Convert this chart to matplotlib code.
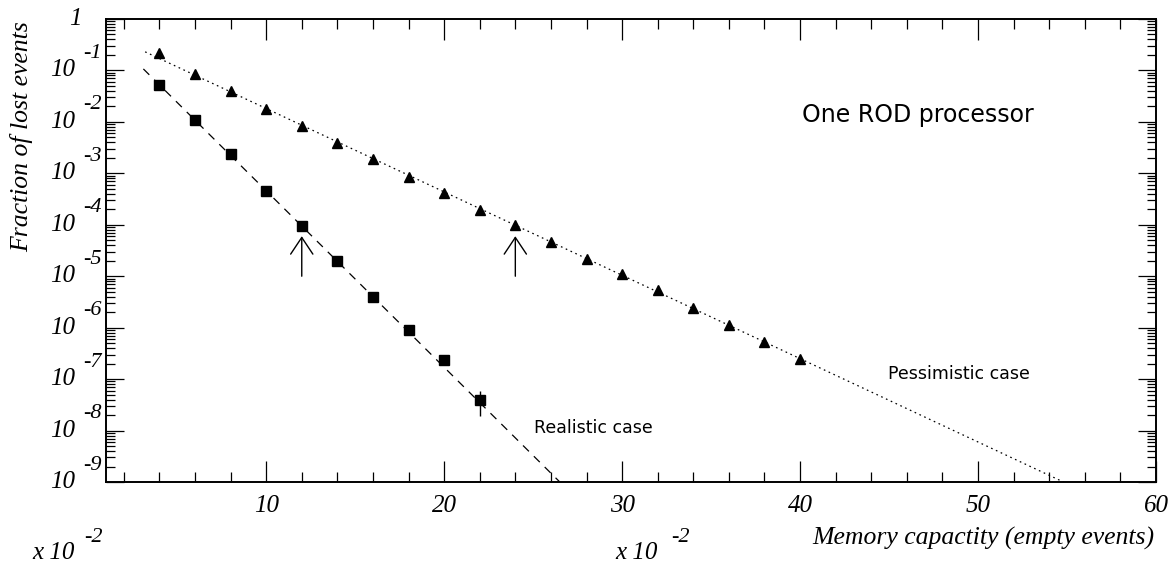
import matplotlib
matplotlib.use("Agg")
import matplotlib.pyplot as plt
from matplotlib.ticker import MultipleLocator, LogLocator, NullFormatter

plt.rcParams["lines.scale_dashes"] = False

# Pessimistic case (triangles)
pess_x = [4, 6, 8, 10, 12, 14, 16, 18, 20, 22, 24, 26, 28, 30, 32, 34, 36, 38, 40]
pess_y = [0.214, 8.7e-2, 3.9e-2, 1.78e-2, 8.3e-3, 3.9e-3, 1.86e-3, 8.5e-4,
          4.1e-4, 1.95e-4, 9.8e-5, 4.7e-5, 2.14e-5, 1.1e-5, 5.4e-6, 2.4e-6,
          1.12e-6, 5.2e-7, 2.45e-7]

# Realistic case (squares)
real_x = [4, 6, 8, 10, 12, 14, 16, 18, 20, 22]
real_y = [5.2e-2, 1.1e-2, 2.35e-3, 4.6e-4, 9.5e-5, 1.95e-5, 4.0e-6, 8.9e-7,
          2.35e-7, 3.9e-8]
real_err_x = [22]
real_err_y = [3.9e-8]
real_err_lo = [1.9e-8]
real_err_hi = [5.75e-8]

# exponential fits (end points)
fit_real_x = [3.1, 26.5]
fit_real_y = [1.07e-1, 1e-9]
fit_pess_x = [3.2, 54.8]
fit_pess_y = [2.3e-1, 1e-9]

# arrows marking the chosen memory size
arrow_x = [12, 24]
arrow_from = 1e-5
arrow_to = 6.0e-5

decades = list(range(-9, 1))

serif = dict(family="Liberation Serif", style="italic")

fig = plt.figure(figsize=(11.73, 5.66), dpi=100)
ax = fig.add_axes([106 / 1173, 1 - 482 / 566, 1050 / 1173, 463 / 566])

ax.set_yscale("log")
ax.set_xlim(1, 60)
ax.set_ylim(1e-9, 1)

ax.plot(fit_real_x, fit_real_y, color="black", lw=0.9, dashes=(6, 5))
ax.plot(fit_pess_x, fit_pess_y, color="black", lw=0.9, dashes=(1.2, 2.6))
ax.plot(real_x, real_y, "s", color="black", ms=7, zorder=3)
ax.plot(pess_x, pess_y, "^", color="black", ms=7, zorder=3)
ax.errorbar(real_err_x, real_err_y,
            yerr=[[real_err_y[0] - real_err_lo[0]], [real_err_hi[0] - real_err_y[0]]],
            fmt="none", ecolor="black", elinewidth=1.0, capsize=0)

for xa in arrow_x:
    ax.annotate("", xy=(xa, arrow_to), xytext=(xa, arrow_from),
                arrowprops=dict(arrowstyle="->,head_length=0.6,head_width=0.4",
                                lw=1.0, color="black", shrinkA=0, shrinkB=0,
                                mutation_scale=20))

# axes styling
for sp in ax.spines.values():
    sp.set_linewidth(1.4)

ax.xaxis.set_major_locator(MultipleLocator(10))
ax.xaxis.set_minor_locator(MultipleLocator(2))
ax.yaxis.set_major_locator(LogLocator(base=10, numticks=20))
ax.yaxis.set_minor_locator(LogLocator(base=10, subs=range(2, 10), numticks=20))
ax.yaxis.set_major_formatter(NullFormatter())
ax.yaxis.set_minor_formatter(NullFormatter())

ax.tick_params(which="both", direction="in", top=True, right=True, width=0.9)
ax.tick_params(axis="x", which="major", length=15, pad=9)
ax.tick_params(axis="x", which="minor", length=7)
ax.tick_params(axis="y", which="major", length=13)
ax.tick_params(axis="y", which="minor", length=6.5)

ax.set_xticks([10, 20, 30, 40, 50, 60])
ax.set_xticklabels(["10", "20", "30", "40", "50", "60"], fontsize=18, **serif)

# PAW style decade labels on y
for e in decades:
    if e == 0:
        ax.annotate("1", xy=(0, 1), xycoords=("axes fraction", "data"),
                    xytext=(-24, 0), textcoords="offset pixels",
                    ha="right", va="center", fontsize=18, **serif)
        continue
    ax.annotate("10", xy=(0, 10.0 ** e), xycoords=("axes fraction", "data"),
                xytext=(-31, 0), textcoords="offset pixels",
                ha="right", va="center", fontsize=18, **serif)
    ax.annotate(f"-{-e}", xy=(0, 10.0 ** e), xycoords=("axes fraction", "data"),
                xytext=(-23, 17), textcoords="offset pixels",
                ha="left", va="center", fontsize=16, **serif)

# "x 10^-2" leftovers
for xl, xe in [(75, 84), (658, 671)]:
    fig.text(xl / 1173, 1 - 553 / 566, "x 10", ha="right", va="center",
             fontsize=18, **serif)
    fig.text(xe / 1173, 1 - 537 / 566, "-2", ha="left", va="center",
             fontsize=16, **serif)

fig.text(22 / 1173, 1 - 137 / 566, "Fraction of lost events", rotation=90,
         ha="center", va="center", fontsize=18.5, **serif)
fig.text(1154 / 1173, 1 - 538 / 566, "Memory capactity (empty events)",
         ha="right", va="center", fontsize=18.5, **serif)

fig.text(802 / 1173, 1 - 115 / 566, "One ROD processor", fontsize=17,
         family="DejaVu Sans", ha="left", va="center")
fig.text(534 / 1173, 1 - 428 / 566, "Realistic case", fontsize=12.5,
         family="DejaVu Sans", ha="left", va="center")
fig.text(888 / 1173, 1 - 374 / 566, "Pessimistic case", fontsize=12.5,
         family="DejaVu Sans", ha="left", va="center")

fig.savefig("out.png", dpi=100)
